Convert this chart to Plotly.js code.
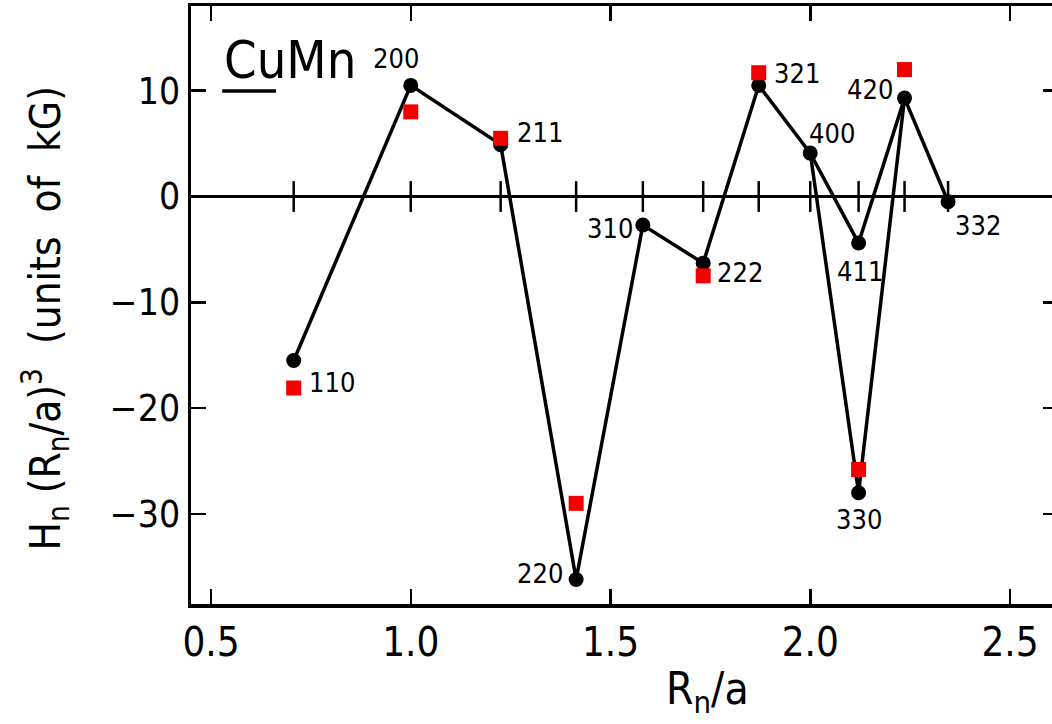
<!DOCTYPE html>
<html>
<head>
<meta charset="utf-8">
<script src="https://cdn.plot.ly/plotly-3.0.1.min.js"></script>
<style>
  html, body { margin: 0; padding: 0; background: #fff; overflow: hidden; }
  #chart { width: 1070px; height: 724px; }
</style>
</head>
<body>
<div id="chart"></div>
<script>
// Shell labels (hkl) and distances R_n/a for the fcc neighbour shells
const shellLabels = ['110', '200', '211', '220', '310', '222', '321', '400', '411', '420', '332'];
const shellR      = [0.707, 1.000, 1.225, 1.414, 1.581, 1.732, 1.871, 2.000, 2.121, 2.236, 2.345];
// Black circles: H_n (R_n/a)^3 along the main path
const blackH      = [-15.5, 10.5, 4.9, -36.2, -2.7, -6.3, 10.5, 4.1, -4.4, 9.3, -0.5];
// Branch through the 330 shell (400 -> 330 -> 420)
const branchLabels = ['400', '330', '420'];
const branchR      = [2.000, 2.121, 2.236];
const branchH      = [4.1, -28.0, 9.3];
// Red squares
const redLabels = ['110', '200', '211', '220', '222', '321', '330', '420'];
const redR      = [0.707, 1.000, 1.225, 1.414, 1.732, 1.871, 2.121, 2.236];
const redH      = [-18.1, 8.0, 5.5, -29.0, -7.5, 11.7, -25.8, 12.0];
// Axis ticks
const xTicks = [0.5, 1.0, 1.5, 2.0, 2.5];
const xTickText = ['0.5', '1.0', '1.5', '2.0', '2.5'];
const yTicks = [10, 0, -10, -20, -30];

const FONT = 'DejaVu Sans Condensed, Liberation Sans Narrow, sans-serif';

// label offsets in pixels (style only)
const labelShift = {
  '110': [38, -22], '200': [-15, 27], '211': [39, 12], '220': [-36, 6],
  '310': [-33, -3], '222': [37, -9], '321': [38, 12], '400': [22, 20],
  '411': [1, -28], '420': [-35, 9], '330': [0, -27], '332': [30, -24]
};

const traces = [
  { x: shellR, y: shellR.map(() => 0), mode: 'markers', type: 'scatter', hoverinfo: 'skip',
    marker: { symbol: 'line-ns', size: 22, line: { width: 2.5, color: '#000' } } },
  { x: branchR, y: branchH, mode: 'lines', type: 'scatter',
    line: { color: '#000', width: 3.5 } },
  { x: shellR, y: blackH, mode: 'lines+markers', type: 'scatter',
    line: { color: '#000', width: 3.5 },
    marker: { symbol: 'circle', size: 15, color: '#000' } },
  { x: [branchR[1]], y: [branchH[1]], mode: 'markers', type: 'scatter',
    marker: { symbol: 'circle', size: 15, color: '#000' } },
  { x: redR, y: redH, mode: 'markers', type: 'scatter',
    marker: { symbol: 'square', size: 15, color: '#f20000' } }
];

const annotations = [];
shellLabels.forEach((lab, i) => {
  const s = labelShift[lab];
  annotations.push({ x: shellR[i], y: blackH[i], xref: 'x', yref: 'y', text: lab, showarrow: false,
    xshift: s[0], yshift: s[1], font: { family: FONT, size: 27, color: '#000' } });
});
{
  const s = labelShift['330'];
  annotations.push({ x: branchR[1], y: branchH[1], xref: 'x', yref: 'y', text: branchLabels[1], showarrow: false,
    xshift: s[0], yshift: s[1], font: { family: FONT, size: 27, color: '#000' } });
}
annotations.push({ xref: 'paper', yref: 'paper', x: 0.036, y: 0.91, xanchor: 'left', yanchor: 'middle',
  text: 'CuMn', showarrow: false, font: { family: FONT, size: 52, color: '#000' } });
annotations.push({ xref: 'paper', yref: 'paper', x: -0.168, y: 0.478, xanchor: 'center', yanchor: 'middle',
  textangle: -90, text: 'H<sub>n</sub> (R<sub>n</sub>/a)<sup>3</sup>  (units  of  kG)', showarrow: false,
  font: { family: FONT, size: 42, color: '#000' } });
annotations.push({ xref: 'paper', yref: 'paper', x: 0.596, y: -0.147, xanchor: 'center', yanchor: 'middle',
  text: 'R<sub>n</sub>/a', showarrow: false, font: { family: FONT, size: 44, color: '#000' } });

const layout = {
  width: 1070, height: 724,
  margin: { l: 191, r: 12, t: 6, b: 120 },
  paper_bgcolor: '#fff', plot_bgcolor: '#fff',
  showlegend: false,
  font: { family: FONT, color: '#000' },
  xaxis: {
    range: [0.44994, 2.62015], tickvals: xTicks, ticktext: xTickText,
    ticks: 'inside', ticklen: 15, tickwidth: 2.5, tickcolor: '#000',
    showline: true, linewidth: 3.5, linecolor: '#000', mirror: 'ticks',
    showgrid: false, zeroline: false,
    tickfont: { family: FONT, size: 40, color: '#000' }
  },
  yaxis: {
    range: [-38.516, 18.006], tickvals: yTicks,
    ticks: 'inside', ticklen: 15, tickwidth: 2.5, tickcolor: '#000',
    showline: true, linewidth: 3.5, linecolor: '#000', mirror: 'ticks',
    showgrid: false, zeroline: true, zerolinewidth: 2.5, zerolinecolor: '#000',
    tickfont: { family: FONT, size: 37, color: '#000' }
  },
  shapes: [
    { type: 'line', xref: 'paper', yref: 'paper', x0: 0.036, x1: 0.098, y0: 0.858, y1: 0.858,
      line: { color: '#000', width: 3.5 } }
  ],
  annotations: annotations
};

Plotly.newPlot('chart', traces, layout, { displayModeBar: false, staticPlot: true });
</script>
</body>
</html>
